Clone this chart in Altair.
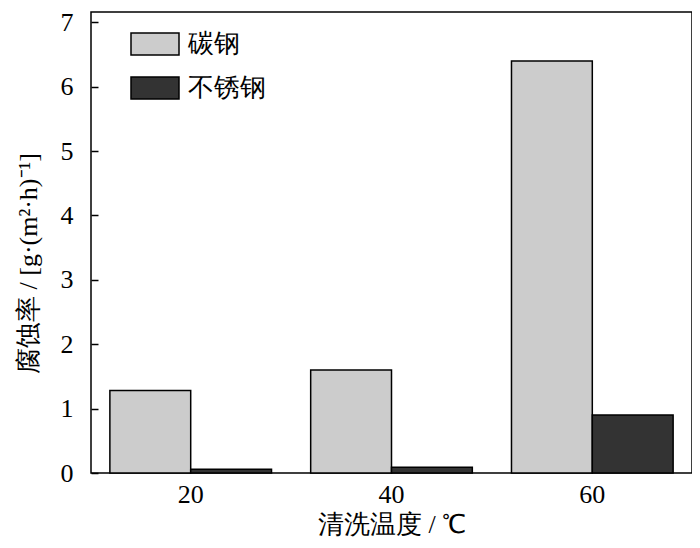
import altair as alt
import pandas as pd

temps = ["20", "40", "60"]
series = ["碳钢", "不锈钢"]
carbon = [1.28, 1.60, 6.40]
stainless = [0.06, 0.09, 0.90]
colors = ["#cccccc", "#333333"]
y_ticks = [0, 1, 2, 3, 4, 5, 6, 7]

rows = []
for t, c, s in zip(temps, carbon, stainless):
    rows.append({"temp": t, "type": series[0], "rate": c})
    rows.append({"temp": t, "type": series[1], "rate": s})
df = pd.DataFrame(rows)

FONT = "Liberation Serif"

chart = alt.Chart(df).mark_bar(stroke="black", strokeWidth=1.5).encode(
    x=alt.X("temp:N", sort=temps,
            scale=alt.Scale(paddingInner=0.195, paddingOuter=0.094),
            axis=alt.Axis(title="清洗温度 / ℃", labelAngle=0, ticks=False, tickSize=0,
                          domain=False, labelPadding=8, labelFontSize=26,
                          labelColor="black", titleFontSize=26, titleFontWeight="normal",
                          titleColor="black", titlePadding=4)),
    xOffset=alt.XOffset("type:N", sort=series,
                        scale=alt.Scale(paddingInner=0, paddingOuter=0)),
    y=alt.Y("rate:Q", scale=alt.Scale(domain=[0, 7.16], nice=False, zero=True),
            axis=alt.Axis(title="腐蚀率 / [g·(m²·h)⁻¹]", values=y_ticks, format="d",
                          grid=False, domain=False, offset=-7, tickSize=7,
                          tickColor="black", tickWidth=1.5, labelPadding=18,
                          labelFontSize=26, labelColor="black",
                          titleFontSize=26, titleFontWeight="normal", titleColor="black",
                          titleAngle=270, titleBaseline="middle", titleAlign="center",
                          titleX=-70, titleY=251)),
    color=alt.Color("type:N", sort=series,
                    scale=alt.Scale(domain=series, range=colors),
                    legend=alt.Legend(title=None, orient="none", legendX=39, legendY=7,
                                      symbolType="M-1,-0.458H1V0.458H-1Z",
                                      symbolSize=2304, symbolStrokeColor="black",
                                      symbolStrokeWidth=1.5, symbolOpacity=1,
                                      labelFontSize=26, labelColor="black",
                                      labelOffset=8, rowPadding=5)),
).properties(
    width=601, height=461,
    autosize=alt.AutoSizeParams(type="none"),
    padding={"left": 83, "top": 4, "right": 0, "bottom": 67},
).configure(
    font=FONT,
).configure_view(
    stroke="black", strokeWidth=1.5,
)

chart.save("out.html", embed_options={"renderer": "svg", "actions": False})
